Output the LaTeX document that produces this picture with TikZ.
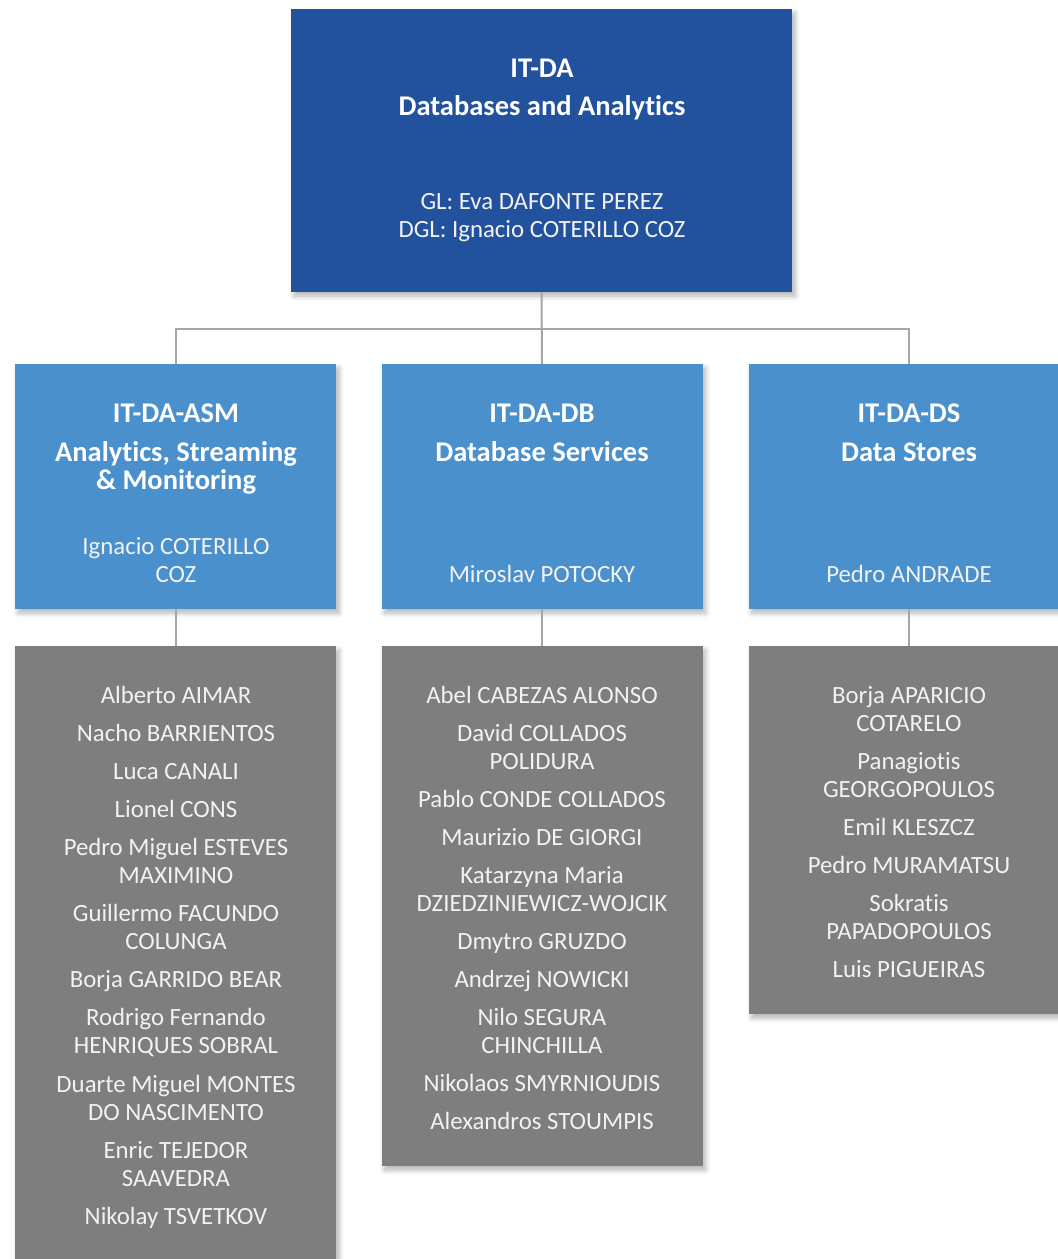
\documentclass[tikz,border=0pt]{standalone}
\usepackage{fontspec}
\setmainfont{Carlito}[Ligatures=NoCommon]
\usepackage{xcolor}
\usetikzlibrary{positioning, shadows.blur}

\definecolor{topblue}{RGB}{34,82,158}
\definecolor{midblue}{RGB}{74,144,205}
\definecolor{listgray}{RGB}{126,126,126}
\definecolor{linkgray}{RGB}{166,166,166}
\definecolor{namewhite}{RGB}{242,242,242}

\begin{document}
\begin{tikzpicture}[x=1pt, y=-1pt,
  box/.style={rectangle, draw=none, inner sep=0pt,
    blur shadow={shadow xshift=3pt, shadow yshift=-4pt, shadow opacity=30, shadow blur steps=8, shadow blur radius=5pt}},
  headbox/.style={box, fill=topblue, minimum width=501pt, minimum height=283pt},
  unitbox/.style={box, fill=midblue, minimum width=321pt, minimum height=245pt},
  listbox/.style={box, fill=listgray, minimum width=321pt},
  link/.style={draw=linkgray, line width=2pt},
  title/.style={text=white, anchor=base, inner sep=0pt, font=\fontsize{28.5}{33}\selectfont\bfseries},
  person/.style={text=namewhite, anchor=base, inner sep=0pt, font=\fontsize{24.8}{29}\selectfont}]

  % Fix the page to the reference size
  \useasboundingbox (0,0) rectangle (1058,1259);

  % Draw the group box
  \node[headbox] (da) at (541.5,150.5) {};

  % Draw the section boxes
  \node[unitbox] (asm) at (175.5,486.5) {};
  \node[unitbox] (db) at (542,486.5) {};
  \node[unitbox] (ds) at (909,486.5) {};

  % Draw the member boxes
  \node[listbox, minimum height=640pt] (asmlist) at (175.5,966) {};
  \node[listbox, minimum height=520pt] (dblist) at (542,906) {};
  \node[listbox, minimum height=368pt] (dslist) at (909,830) {};

  % Draw the connectors
  \draw[link] (da.south) -- (db.north);
  \draw[link] (asm.north) -- ++(0,-35) -| (ds.north);
  \draw[link] (asm.south) -- (asmlist.north);
  \draw[link] (db.south) -- (dblist.north);
  \draw[link] (ds.south) -- (dslist.north);

  % Label the group
  \node[title] (da1) at (542,77) {IT-DA};
  \node[title] (da2) at (542,115) {Databases and Analytics};
  \node[person] (da3) at (542,209) {GL: Eva DAFONTE PEREZ};
  \node[person] (da4) at (542,237) {DGL: Ignacio COTERILLO COZ};

  % Label the sections
  \node[title] (asm1) at (176,422) {IT-DA-ASM};
  \node[title] (asm2) at (176,461) {Analytics, Streaming};
  \node[title] (asm3) at (176,489) {\& Monitoring};
  \node[person] (asm4) at (176,554) {Ignacio COTERILLO};
  \node[person] (asm5) at (176,582) {COZ};

  \node[title] (db1) at (542,422) {IT-DA-DB};
  \node[title] (db2) at (542,461) {Database Services};
  \node[person] (db3) at (542,582) {Miroslav POTOCKY};

  \node[title] (ds1) at (909,422) {IT-DA-DS};
  \node[title] (ds2) at (909,461) {Data Stores};
  \node[person] (ds3) at (909,582) {Pedro ANDRADE};

  % List the members
  \foreach \y/\t [count=\i] in {694/Alberto AIMAR, 732/Nacho BARRIENTOS, 770/Luca CANALI,
      808/Lionel CONS, 846/Pedro Miguel ESTEVES, 874/MAXIMINO, 912/Guillermo FACUNDO,
      940/COLUNGA, 978/Borja GARRIDO BEAR, 1016/Rodrigo Fernando, 1044/HENRIQUES SOBRAL,
      1083/Duarte Miguel MONTES, 1111/DO NASCIMENTO, 1149/Enric TEJEDOR, 1177/SAAVEDRA,
      1215/Nikolay TSVETKOV}
    \node[person] (asmname\i) at (176,\y+9) {\t};

  \foreach \y/\t [count=\i] in {694/Abel CABEZAS ALONSO, 732/David COLLADOS, 760/POLIDURA,
      798/Pablo CONDE COLLADOS, 836/Maurizio DE GIORGI, 874/Katarzyna Maria,
      902/DZIEDZINIEWICZ-WOJCIK, 940/Dmytro GRUZDO, 978/Andrzej NOWICKI, 1016/Nilo SEGURA,
      1044/CHINCHILLA, 1082/Nikolaos SMYRNIOUDIS, 1120/Alexandros STOUMPIS}
    \node[person] (dbname\i) at (542,\y+9) {\t};

  \foreach \y/\t [count=\i] in {694/Borja APARICIO, 722/COTARELO, 760/Panagiotis,
      788/GEORGOPOULOS, 826/Emil KLESZCZ, 864/Pedro MURAMATSU, 902/Sokratis,
      930/PAPADOPOULOS, 968/Luis PIGUEIRAS}
    \node[person] (dsname\i) at (909,\y+9) {\t};

\end{tikzpicture}
\end{document}
